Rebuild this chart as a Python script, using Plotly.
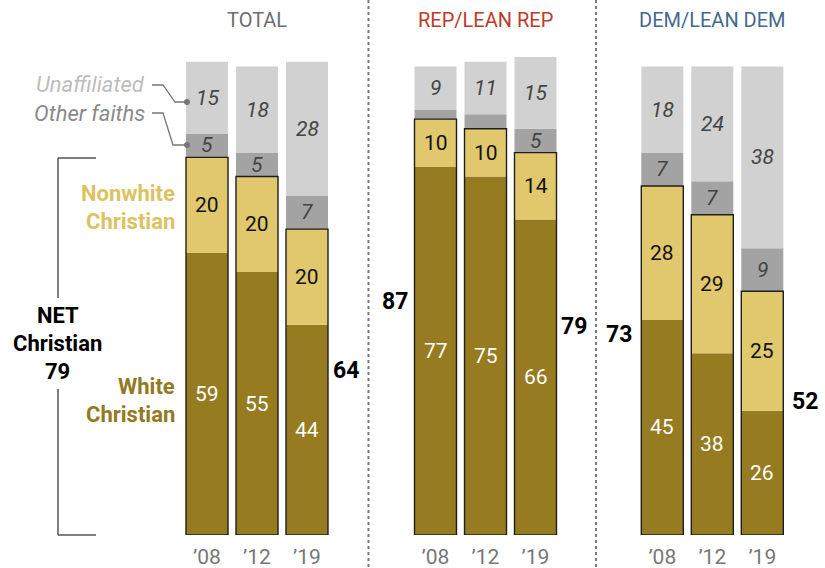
import plotly.graph_objects as go

W, H = 825, 568

# ---------------- data ----------------
years = ["’08", "’12", "’19"]
panels = ["TOTAL", "REP/LEAN REP", "DEM/LEAN DEM"]

white_christian = [[59, 55, 44], [77, 75, 66], [45, 38, 26]]
nonwhite_christian = [[20, 20, 20], [10, 10, 14], [28, 29, 25]]
other_faiths = [[5, 5, 7], [2, 3, 5], [7, 7, 9]]
unaffiliated = [[15, 18, 28], [9, 11, 15], [18, 24, 38]]
other_faiths_labels = [["5", "5", "7"], ["", "", "5"], ["7", "7", "9"]]

net_christian_08 = [79, 87, 73]
net_christian_19 = [64, 79, 52]

# ---------------- styles ----------------
FONT = "Roboto"
C_WHITE = "#967B21"
C_NONWHITE = "#E1C86D"
C_OTHER = "#A3A3A3"
C_UNAFF = "#D1D1D1"
panel_colors = ["#6E6E6E", "#C0392B", "#44698F"]
panel_centers = [257, 485.5, 712.3]
panel_half = 75

def px(x):
    return x / W

def py(y):
    return 1 - y / H

fig = go.Figure()
ann = []

for p in range(3):
    xa = "x" if p == 0 else f"x{p+1}"
    w = white_christian[p]
    n = nonwhite_christian[p]
    o = other_faiths[p]
    u = unaffiliated[p]
    base_n = w
    base_o = [a + b for a, b in zip(w, n)]
    base_u = [a + b + c for a, b, c in zip(w, n, o)]

    segs = [
        (w, [0, 0, 0], C_WHITE, [str(v) for v in w], "white", "normal"),
        (n, base_n, C_NONWHITE, [str(v) for v in n], "#111111", "normal"),
        (o, base_o, C_OTHER, other_faiths_labels[p], "#444444", "italic"),
        (u, base_u, C_UNAFF, [str(v) for v in u], "#444444", "italic"),
    ]
    for vals, base, color, labels, tcolor, tstyle in segs:
        fig.add_trace(go.Bar(x=years, y=vals, base=base, xaxis=xa, yaxis="y",
                             marker_color=color, marker_line_width=0,
                             hoverinfo="skip"))
        for yr, v, b, lab in zip(years, vals, base, labels):
            if lab:
                ann.append(dict(x=yr, y=b + v / 2, xref=xa, yref="y", text=lab,
                                showarrow=False, xanchor="center", yanchor="middle",
                                font=dict(family=FONT, size=21, color=tcolor,
                                          style=tstyle)))
    # NET Christian outline
    fig.add_trace(go.Bar(x=years, y=base_o, base=[0, 0, 0], xaxis=xa, yaxis="y",
                         marker=dict(color="rgba(0,0,0,0)",
                                     line=dict(color="#1E1E1E", width=1.4)),
                         hoverinfo="skip"))

layout_axes = {}
for p in range(3):
    key = "xaxis" if p == 0 else f"xaxis{p+1}"
    c = panel_centers[p]
    layout_axes[key] = dict(
        domain=[px(c - panel_half), px(c + panel_half)],
        type="category", range=[-0.5, 2.5], anchor="y",
        showgrid=False, zeroline=False, showline=False, ticks="",
        ticklabelstandoff=7,
        tickfont=dict(family=FONT, size=21, color="#777777"),
        fixedrange=True,
    )

fig.update_layout(
    width=W, height=H,
    margin=dict(l=0, r=0, t=0, b=0),
    paper_bgcolor="white", plot_bgcolor="white",
    showlegend=False, barmode="overlay", bargap=0.16,
    hovermode=False,
    yaxis=dict(domain=[33 / H, (33 + 478) / H], range=[0, 100], visible=False,
               showgrid=False, zeroline=False, fixedrange=True),
    **layout_axes,
)

# panel titles
for p in range(3):
    ann.append(dict(x=px(panel_centers[p]), y=py(20), xref="paper", yref="paper",
                    text=panels[p], showarrow=False, xanchor="center", yanchor="middle",
                    font=dict(family=FONT, size=20, color=panel_colors[p])))

# NET Christian labels
net_pos_08 = [None, (395, 301), (619, 334)]
net_pos_19 = [(346, 370), (574, 326), (805, 402)]
for p in range(3):
    if net_pos_08[p] is not None:
        x, y = net_pos_08[p]
        ann.append(dict(x=px(x), y=py(y), xref="paper", yref="paper",
                        text=f"<b>{net_christian_08[p]}</b>", showarrow=False,
                        xanchor="center", yanchor="middle",
                        font=dict(family=FONT, size=23, color="#000000")))
    x, y = net_pos_19[p]
    ann.append(dict(x=px(x), y=py(y), xref="paper", yref="paper",
                    text=f"<b>{net_christian_19[p]}</b>", showarrow=False,
                    xanchor="center", yanchor="middle",
                    font=dict(family=FONT, size=23, color="#000000")))

# bracket label
for txt, y in [("NET", 315), ("Christian", 343), (str(net_christian_08[0]), 371)]:
    ann.append(dict(x=px(58), y=py(y), xref="paper", yref="paper", text=f"<b>{txt}</b>",
                    showarrow=False, xanchor="center", yanchor="middle",
                    font=dict(family=FONT, size=22, color="#000000")))

# category labels
for txt, y in [("Nonwhite", 193), ("Christian", 221)]:
    ann.append(dict(x=px(177), y=py(y), xref="paper", yref="paper", text=f"<b>{txt}</b>",
                    showarrow=False, xanchor="right", yanchor="middle",
                    font=dict(family=FONT, size=22, color="#DCC262")))
for txt, y in [("White", 386), ("Christian", 414)]:
    ann.append(dict(x=px(177), y=py(y), xref="paper", yref="paper", text=f"<b>{txt}</b>",
                    showarrow=False, xanchor="right", yanchor="middle",
                    font=dict(family=FONT, size=22, color="#937A22")))
ann.append(dict(x=px(147), y=py(85), xref="paper", yref="paper", text="Unaffiliated",
                showarrow=False, xanchor="right", yanchor="middle",
                font=dict(family=FONT, size=22, color="#BDBDBD", style="italic")))
ann.append(dict(x=px(147), y=py(113), xref="paper", yref="paper", text="Other faiths",
                showarrow=False, xanchor="right", yanchor="middle",
                font=dict(family=FONT, size=22, color="#8A8A8A", style="italic")))
fig.update_layout(annotations=ann)

shapes = []
def line(x0, y0, x1, y1, color="#666666", width=1.5, dash=None):
    d = dict(type="line", xref="paper", yref="paper", x0=px(x0), y0=py(y0),
             x1=px(x1), y1=py(y1), line=dict(color=color, width=width))
    if dash:
        d["line"]["dash"] = dash
    shapes.append(d)

# dotted dividers
line(368.5, 0, 368.5, H, color="#7A7A7A", width=2, dash="dot")
line(596, 0, 596, H, color="#7A7A7A", width=2, dash="dot")

# connectors
def path(points, color="#777777"):
    d = "M " + " L ".join(f"{px(x)},{py(y)}" for x, y in points)
    shapes.append(dict(type="path", xref="paper", yref="paper", path=d,
                       line=dict(color=color, width=1.3)))

path([(152, 85), (163, 85), (175, 102), (187, 102)])
path([(152, 113), (163, 113), (173, 145), (187, 145)])
for yy in (102, 145):
    shapes.append(dict(type="circle", xref="paper", yref="paper",
                       x0=px(184), x1=px(190), y0=py(yy - 3), y1=py(yy + 3),
                       fillcolor="#777777", line=dict(width=0)))

# bracket
line(58, 158, 58, 298, color="#555555")
line(58, 389, 58, 535, color="#555555")
line(58, 158, 96, 158, color="#555555")
line(58, 535, 96, 535, color="#555555")

fig.update_layout(shapes=shapes)
fig.write_html("out.html",
               config={"displayModeBar": False, "staticPlot": True},
               post_script="document.body.style.margin='0';document.body.style.overflow='hidden';")
